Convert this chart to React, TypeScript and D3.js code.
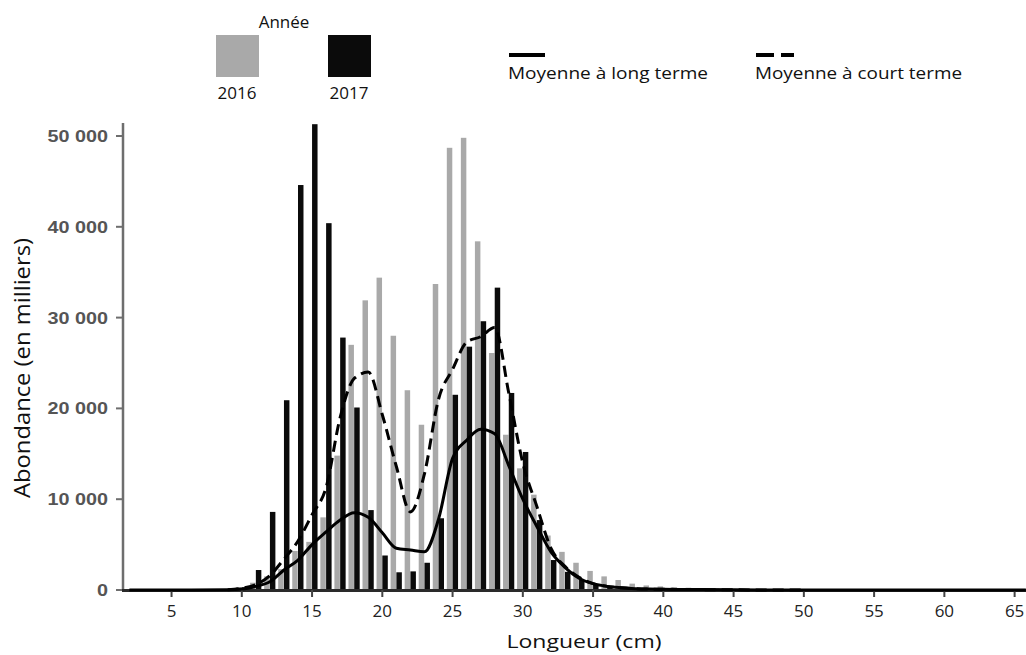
import React from "react";
import * as d3 from "d3";

// ---- Data ----
const lengths = [10, 11, 12, 13, 14, 15, 16, 17, 18, 19, 20, 21, 22, 23, 24, 25, 26, 27, 28, 29, 30, 31, 32, 33, 34, 35, 36, 37, 38, 39, 40, 41, 42, 43, 44, 45];
const abundance2016 = [300, 800, 1500, 2300, 4300, 5300, 8000, 14800, 27000, 31900, 34400, 28000, 22000, 18200, 33700, 48700, 49800, 38400, 26100, 17100, 13400, 10500, 6000, 4200, 3000, 2100, 1500, 1100, 700, 500, 400, 300, 250, 200, 150, 100];
const abundance2017 = [300, 2200, 8600, 20900, 44600, 51300, 40400, 27800, 20100, 8800, 3800, 1950, 2050, 3000, 7900, 21500, 26800, 29600, 33300, 21700, 15200, 7700, 3300, 2000, 1100, 600, 400, 250, 150, 100, 80, 50, 40, 30, 20, 10];

const longTermLengths = [2, 9, 10, 11, 12, 13, 14, 15, 16, 17, 18, 19, 20, 21, 22, 23, 24, 25, 26, 27, 28, 29, 30, 31, 32, 33, 34, 35, 36, 37, 38, 39, 40, 42, 45, 50, 65.8];
const longTermMean = [0, 30, 100, 400, 900, 2200, 3300, 5000, 6400, 7700, 8500, 8000, 6300, 4600, 4400, 4200, 7800, 14500, 16500, 17700, 17200, 13700, 10000, 7000, 4200, 2500, 1300, 700, 400, 250, 150, 100, 80, 50, 20, 0, 0];

const shortTermLengths = [9, 10, 11, 12, 13, 14, 15, 16, 17, 18, 19, 20, 21, 22, 23, 24, 25, 26, 27, 28, 29, 30, 31, 32, 33, 34, 35, 36, 37, 38, 39, 40, 42, 45, 50];
const shortTermMean = [30, 200, 600, 1600, 3400, 5400, 8300, 11300, 19000, 23300, 24000, 19300, 13600, 8600, 12800, 21000, 24300, 27300, 27900, 28900, 21700, 14000, 9200, 4600, 2600, 1400, 700, 400, 250, 150, 100, 80, 50, 20, 0];

const xTicks = [5, 10, 15, 20, 25, 30, 35, 40, 45, 50, 55, 60, 65];
const yTicks = [0, 10000, 20000, 30000, 40000, 50000];
const yTickLabels = ["0", "10 000", "20 000", "30 000", "40 000", "50 000"];
const years = ["2016", "2017"];
const lineLabels = ["Moyenne à long terme", "Moyenne à court terme"];

const W = 1026;
const H = 655;
const GRAY = "#a9a9a9";
const BLACK = "#0b0b0b";

export default function App() {
  const x = d3.scaleLinear().domain([1.545, 65.81]).range([123, 1026]);
  const y = d3.scaleLinear().domain([0, 50000]).range([590, 136]);

  const barW = 0.39; // in cm
  const line = d3
    .line<[number, number]>()
    .x((d) => x(d[0]))
    .y((d) => y(d[1]))
    .curve(d3.curveMonotoneX);

  const longPts: [number, number][] = longTermLengths.map((l, i) => [l, longTermMean[i]]);
  const shortPts: [number, number][] = shortTermLengths.map((l, i) => [l, shortTermMean[i]]);

  const tickFont = "'Liberation Sans', Arial, sans-serif";
  const textFont = "'Open Sans', 'Noto Sans', sans-serif";

  return (
    <svg
      width={W}
      height={H}
      viewBox={`0 0 ${W} ${H}`}
      style={{ position: "absolute", left: 0, top: 0, background: "#fff" }}
    >
      <rect x={0} y={0} width={W} height={H} fill="#fff" />

      {/* Bars 2016 */}
      {lengths.map((l, i) => (
        <rect
          key={"g" + l}
          x={x(l - 0.41)}
          y={y(abundance2016[i])}
          width={x(l - 0.41 + barW) - x(l - 0.41)}
          height={y(0) - y(abundance2016[i])}
          fill={GRAY}
        />
      ))}
      {/* Bars 2017 */}
      {lengths.map((l, i) => (
        <rect
          key={"b" + l}
          x={x(l)}
          y={y(abundance2017[i])}
          width={x(l + barW) - x(l)}
          height={y(0) - y(abundance2017[i])}
          fill={BLACK}
        />
      ))}

      {/* Y axis */}
      <line x1={123} x2={123} y1={123} y2={591} stroke="#6e6e6e" strokeWidth={2.5} />
      {yTicks.map((t, i) => (
        <g key={"yt" + t}>
          <line x1={116} x2={123} y1={y(t)} y2={y(t)} stroke="#6e6e6e" strokeWidth={2} />
          <text
            x={108}
            y={y(t) + 6}
            textAnchor="end"
            fontFamily={tickFont}
            fontSize={16.5}
            fontWeight="bold"
            fill="#555"
            transform={`translate(${108 * -0.2},0) scale(1.2,1)`}
          >
            {yTickLabels[i]}
          </text>
        </g>
      ))}

      {/* X axis */}
      <line x1={122} x2={1026} y1={590.5} y2={590.5} stroke="#2a2a2a" strokeWidth={3} />
      {xTicks.map((t) => (
        <g key={"xt" + t}>
          <line x1={x(t)} x2={x(t)} y1={590} y2={597} stroke="#444" strokeWidth={2} />
          <text
            x={x(t)}
            y={617}
            textAnchor="middle"
            fontFamily={textFont}
            fontSize={17}
            fill="#222"
          >
            {t}
          </text>
        </g>
      ))}

      {/* Mean lines */}
      <path d={line(longPts) || ""} fill="none" stroke="#000" strokeWidth={3} strokeLinejoin="round" />
      <path
        d={line(shortPts) || ""}
        fill="none"
        stroke="#000"
        strokeWidth={3}
        strokeDasharray="11,6"
      />

      {/* Axis titles */}
      <text
        x={584}
        y={648}
        textAnchor="middle"
        fontFamily={textFont}
        fontSize={19}
        fill="#111"
        textLength={155}
        lengthAdjust="spacingAndGlyphs"
      >
        Longueur (cm)
      </text>
      <text
        transform="translate(30,368) rotate(-90)"
        textAnchor="middle"
        fontFamily={textFont}
        fontSize={21}
        fill="#111"
        textLength={260}
        lengthAdjust="spacingAndGlyphs"
      >
        Abondance (en milliers)
      </text>

      {/* Legend: years */}
      <text x={284} y={28} textAnchor="middle" fontFamily={textFont} fontSize={17} fill="#111">
        Année
      </text>
      <rect x={216} y={35} width={43} height={42} fill={GRAY} />
      <rect x={328} y={35} width={43} height={42} fill={BLACK} />
      <text x={237} y={99} textAnchor="middle" fontFamily={textFont} fontSize={17} fill="#111">
        {years[0]}
      </text>
      <text x={349} y={99} textAnchor="middle" fontFamily={textFont} fontSize={17} fill="#111">
        {years[1]}
      </text>

      {/* Legend: lines */}
      <line x1={509} x2={545} y1={55} y2={55} stroke="#000" strokeWidth={4} />
      <text
        x={508}
        y={79}
        fontFamily={textFont}
        fontSize={17}
        fill="#111"
        textLength={200}
        lengthAdjust="spacingAndGlyphs"
      >
        {lineLabels[0]}
      </text>
      <line x1={756} x2={794} y1={55} y2={55} stroke="#000" strokeWidth={4} strokeDasharray="18,7" />
      <text
        x={755}
        y={79}
        fontFamily={textFont}
        fontSize={17}
        fill="#111"
        textLength={207}
        lengthAdjust="spacingAndGlyphs"
      >
        {lineLabels[1]}
      </text>
    </svg>
  );
}
